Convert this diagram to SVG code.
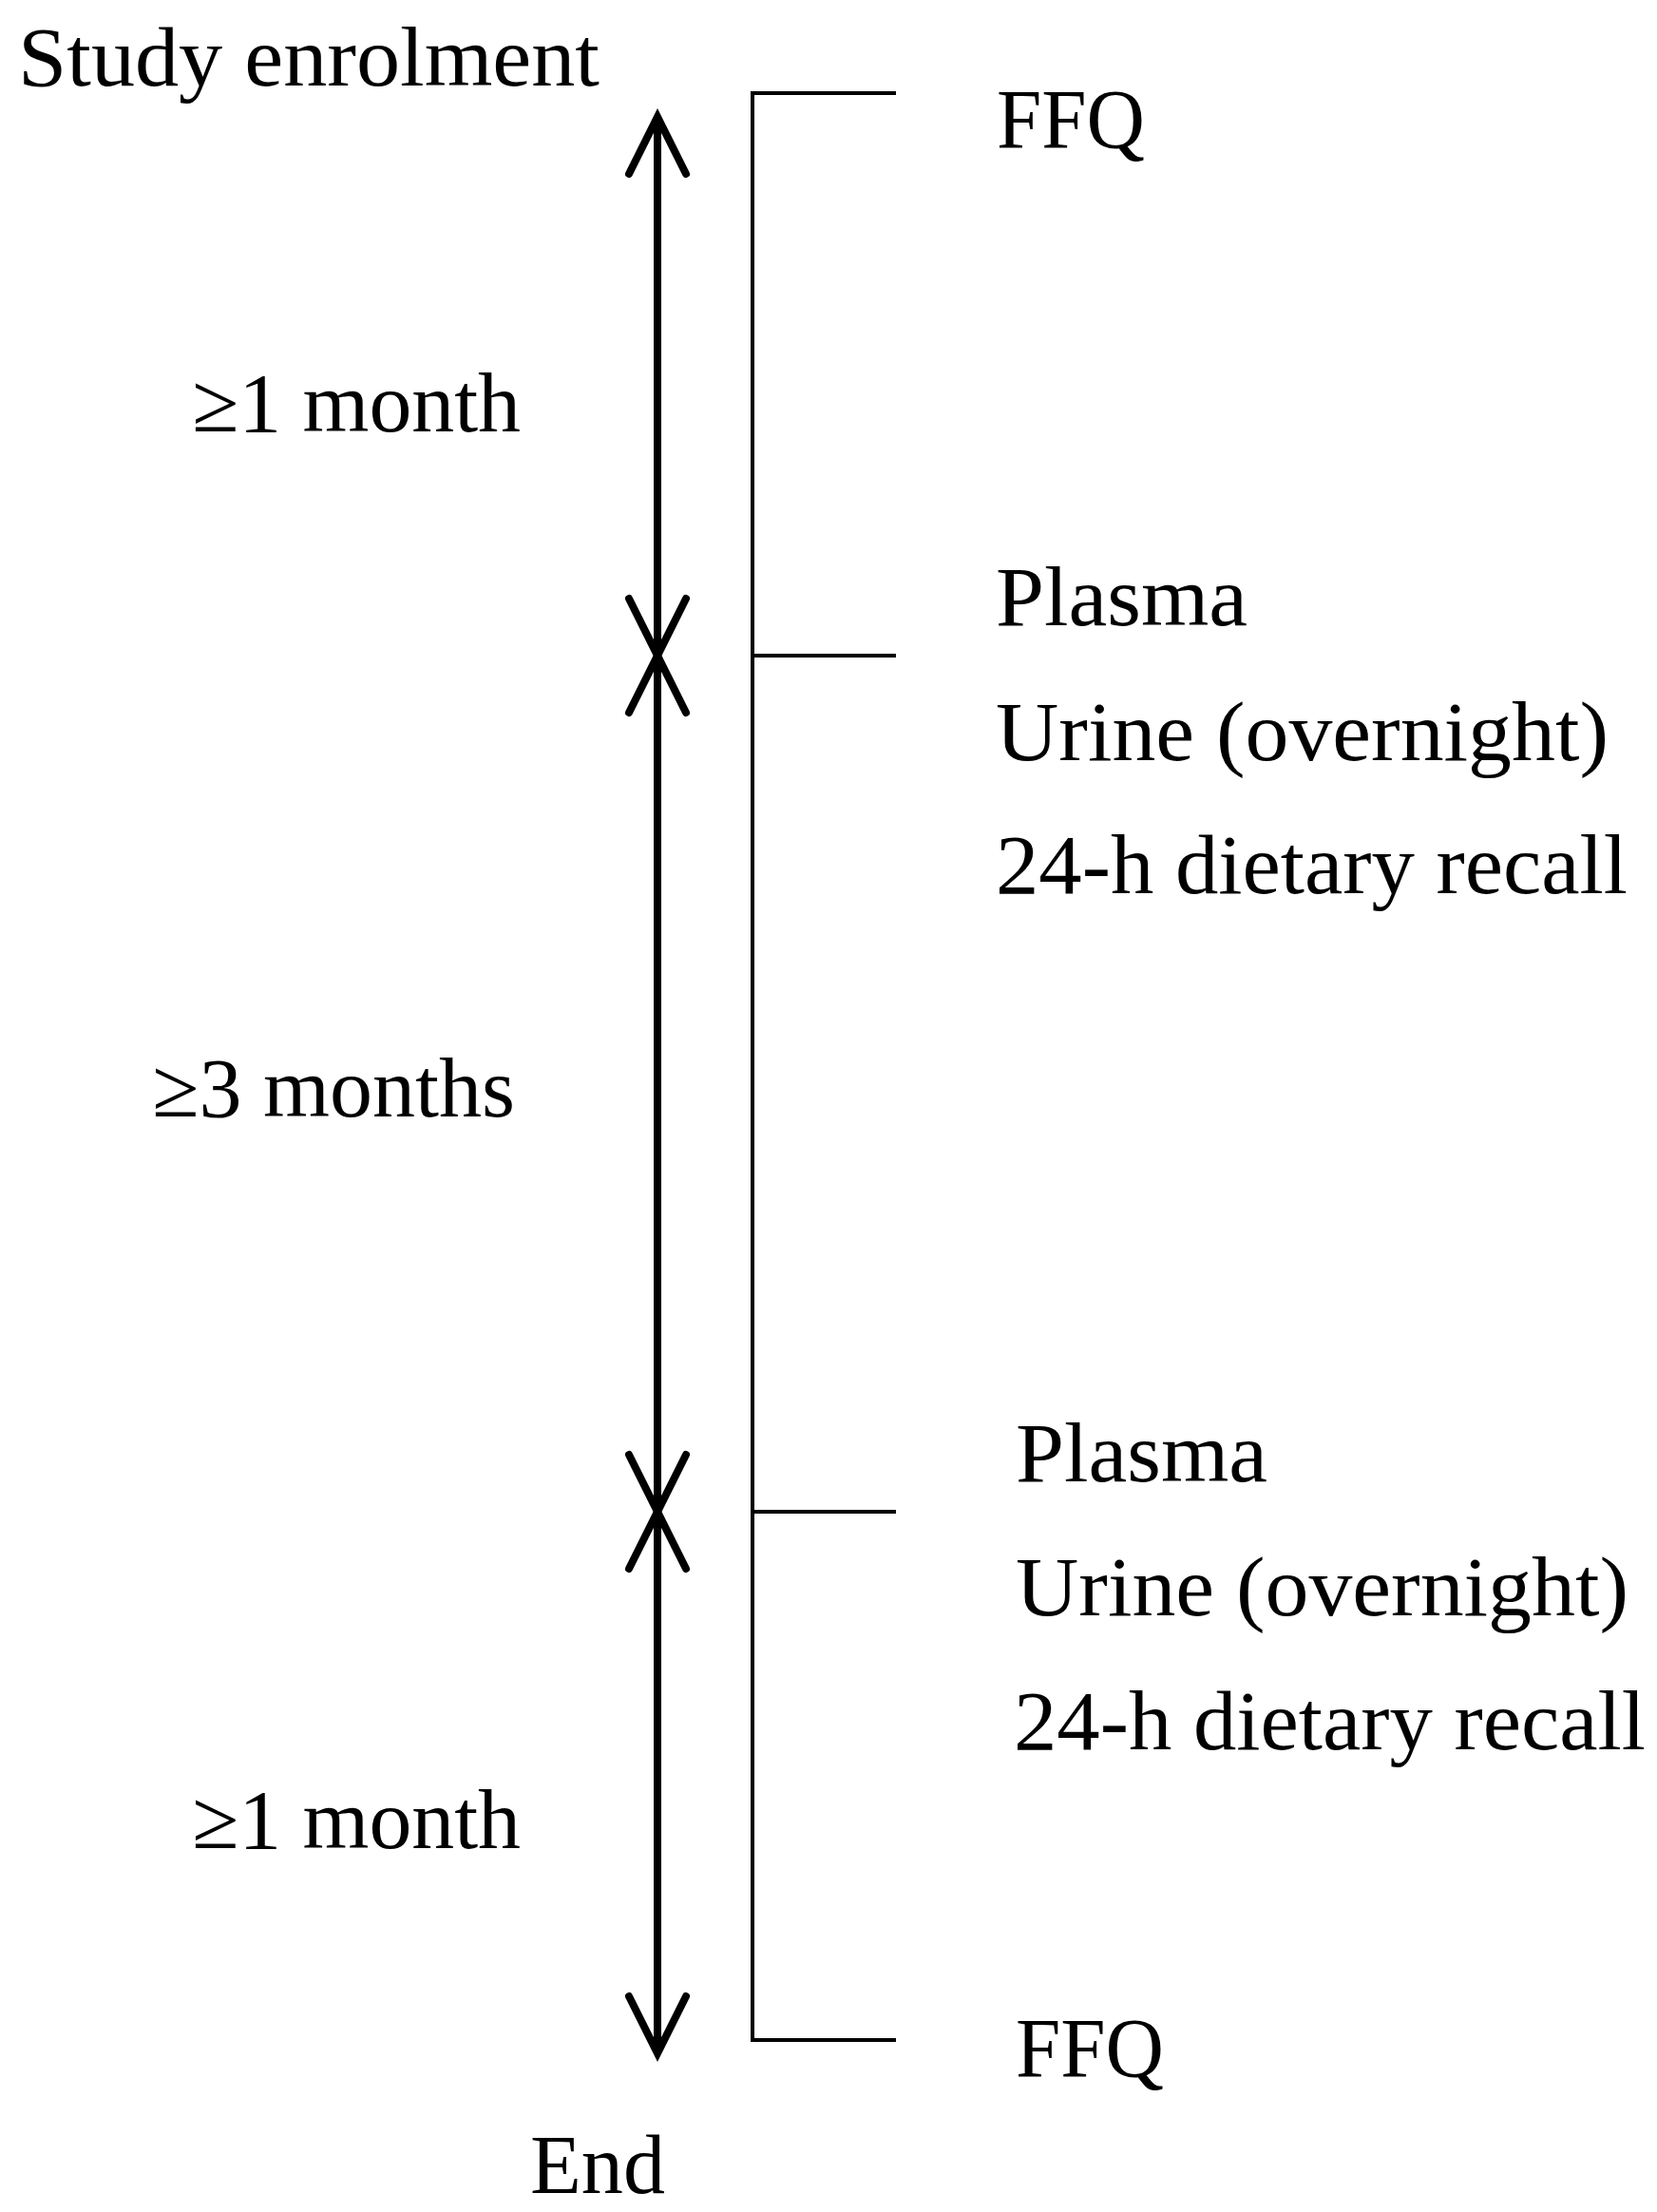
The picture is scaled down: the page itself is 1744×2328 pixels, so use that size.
<svg xmlns="http://www.w3.org/2000/svg" width="1744" height="2328" viewBox="0 0 1744 2328">
<style>
  text { font-family: "Liberation Serif", "Times New Roman", serif; font-size: 88px; fill: #000; }
  .shaft { stroke: #000; stroke-width: 8; fill: none; }
  .head { stroke: #000; stroke-width: 8; fill: none; stroke-linecap: round; stroke-linejoin: miter; }
  .bracket { stroke: #000; stroke-width: 4; fill: none; }
</style>
<rect width="1744" height="2328" fill="#fff"/>
<g id="connectors">
  <line class="shaft" x1="692" y1="126" x2="692" y2="2158"/>
  <polyline class="head" points="662,183 692,123 722,183"/>
  <polyline class="head" points="662,630 692,690 722,630"/>
  <polyline class="head" points="662,750 692,690 722,750"/>
  <polyline class="head" points="662,1531 692,1591 722,1531"/>
  <polyline class="head" points="662,1651 692,1591 722,1651"/>
  <polyline class="head" points="662,2101 692,2161 722,2101"/>
  <path class="bracket" d="M943,98 H792 V2147 H943 M792,690 H943 M792,1591 H943"/>
</g>
<g id="start"><text x="19" y="90" textLength="612" lengthAdjust="spacingAndGlyphs">Study enrolment</text></g>
<g id="ffq1"><text x="1049" y="155" textLength="156" lengthAdjust="spacingAndGlyphs">FFQ</text></g>
<g id="period1"><text x="202" y="454" textLength="346" lengthAdjust="spacingAndGlyphs">≥1 month</text></g>
<g id="visit1">
  <text x="1048" y="658" textLength="265" lengthAdjust="spacingAndGlyphs">Plasma</text>
  <text x="1048" y="800" textLength="645" lengthAdjust="spacingAndGlyphs">Urine (overnight)</text>
  <text x="1048" y="940" textLength="665" lengthAdjust="spacingAndGlyphs">24-h dietary recall</text>
</g>
<g id="period2"><text x="160" y="1175" textLength="382" lengthAdjust="spacingAndGlyphs">≥3 months</text></g>
<g id="visit2">
  <text x="1069" y="1559" textLength="265" lengthAdjust="spacingAndGlyphs">Plasma</text>
  <text x="1069" y="1700" textLength="645" lengthAdjust="spacingAndGlyphs">Urine (overnight)</text>
  <text x="1067" y="1841" textLength="665" lengthAdjust="spacingAndGlyphs">24-h dietary recall</text>
</g>
<g id="period3"><text x="202" y="1945" textLength="346" lengthAdjust="spacingAndGlyphs">≥1 month</text></g>
<g id="ffq2"><text x="1069" y="2185" textLength="156" lengthAdjust="spacingAndGlyphs">FFQ</text></g>
<g id="end"><text x="558" y="2308" textLength="142" lengthAdjust="spacingAndGlyphs">End</text></g>
</svg>
